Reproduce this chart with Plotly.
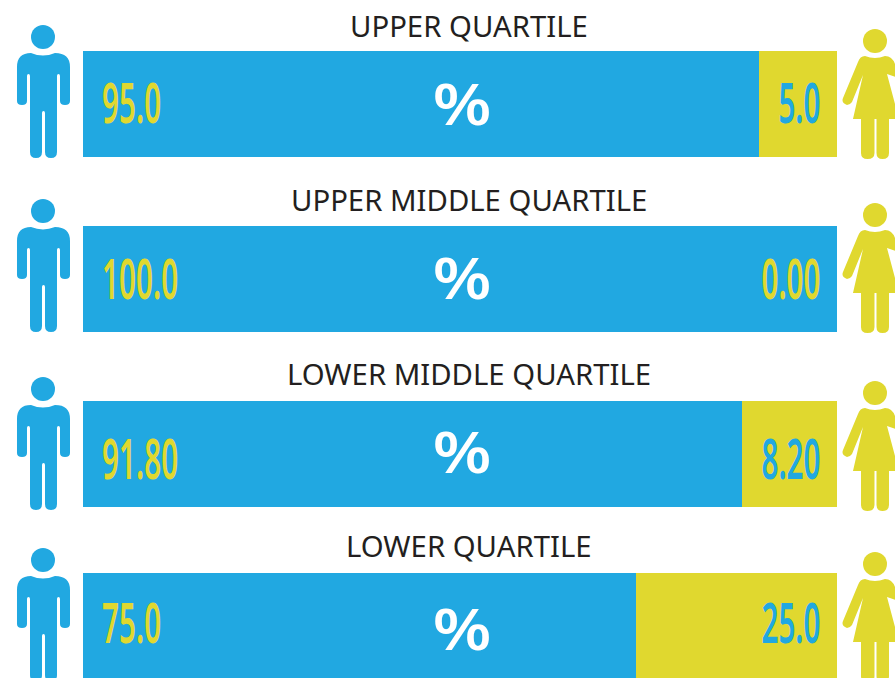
import re
import plotly.graph_objects as go

W, H = 895, 678
titles = ["UPPER QUARTILE", "UPPER MIDDLE QUARTILE", "LOWER MIDDLE QUARTILE", "LOWER QUARTILE"]
men_drawn = [89.7, 100.0, 87.4, 73.3]
women_drawn = [10.3, 0.0, 12.6, 26.7]
men_labels = ["95.0", "100.0", "91.80", "75.0"]
women_labels = ["5.0", "0.00", "8.20", "25.0"]
BLUE, YELLOW = "#21a8e1", "#e0d82f"
bar_tops = [51, 226, 401, 573]
bar_hs = [106, 106, 106, 105]
title_y = [26, 200, 374, 546]
label_y = [101, 277, 457, 621]
percent_y = [102, 277, 450, 627]
man_dy = [0, 174, 352, 523]
woman_dy = [0, 174, 352, 523]

MAN = ("M31 53 Q43 58 55 53 Q70 53 70 67 L70 101 Q70 105 65 105 Q60 105 60 101 L60 76 Q60 74 58.5 74 Q57 74 57 76 "
       "L57 152 Q57 158 51 158 Q45 158 45 152 L45 113 Q45 111 43.5 111 Q42 111 42 113 L42 152 Q42 158 36 158 Q30 158 30 152 "
       "L30 76 Q30 74 28.5 74 Q27 74 27 76 L27 101 Q27 105 22 105 Q17 105 17 101 L17 67 Q17 53 31 53 Z")
WOMAN = ("M865 56 Q875 60 885 56 Q892 56 895 64 L899 78 L887 74 L899 119 L889 119 L889 153 Q889 159 882.5 159 Q876.5 159 876.5 153 "
         "L876.5 119 L874.5 119 L874.5 153 Q874.5 159 867.5 159 Q861 159 861 153 L861 119 L853 119 L863 75 L852 102 Q850 105 847 105 "
         "Q841 103 843 98 L858 62 Q860 56 865 56 Z")

def to_paper(path, dy):
    toks = re.findall(r"[A-Za-z]|-?[\d.]+", path)
    out, is_x = [], True
    for t in toks:
        if t.isalpha():
            out.append(t); is_x = True
        else:
            v = float(t)
            out.append(f"{v / W:.5f}" if is_x else f"{1 - (v + dy) / H:.5f}")
            is_x = not is_x
    return " ".join(out)

fig = go.Figure()
layout = dict(width=W, height=H, margin=dict(l=0, r=0, t=0, b=0), plot_bgcolor="white", paper_bgcolor="white",
              barmode="stack", showlegend=False, shapes=[], annotations=[], bargap=0)
num_font = dict(family="Noto Sans", size=56, weight=600)

for i, title in enumerate(titles):
    suffix = "" if i == 0 else str(i + 1)
    xa, ya = "x" + suffix, "y" + suffix
    top, bot = bar_tops[i], bar_tops[i] + bar_hs[i]
    layout["xaxis" + suffix] = dict(domain=[83 / W, 837 / W], range=[0, 100], visible=False, anchor=ya, fixedrange=True)
    layout["yaxis" + suffix] = dict(domain=[1 - bot / H, 1 - top / H], visible=False, anchor=xa, fixedrange=True)
    fig.add_bar(x=[men_drawn[i]], y=[title], orientation="h", marker=dict(color=BLUE, line_width=0), xaxis=xa, yaxis=ya, hoverinfo="skip")
    fig.add_bar(x=[women_drawn[i]], y=[title], orientation="h", marker=dict(color=YELLOW, line_width=0), xaxis=xa, yaxis=ya, hoverinfo="skip")

    ann = layout["annotations"]
    ann.append(dict(x=468.5 / W, y=1 - title_y[i] / H, xref="paper", yref="paper", text=title, showarrow=False,
                    font=dict(family="Noto Sans", size=29.3, color="#231f20"), xanchor="center", yanchor="middle"))
    ly = 1 - label_y[i] / H
    ann.append(dict(x=100 / W, y=ly, xref="paper", yref="paper", text=men_labels[i], showarrow=False,
                    font=dict(num_font, color=YELLOW), xanchor="left", yanchor="middle"))
    ann.append(dict(x=823 / W, y=ly, xref="paper", yref="paper", text=women_labels[i], showarrow=False,
                    font=dict(num_font, color=BLUE if women_drawn[i] > 0 else YELLOW), xanchor="right", yanchor="middle"))
    ann.append(dict(x=462 / W, y=1 - percent_y[i] / H, xref="paper", yref="paper", text="%", showarrow=False,
                    font=dict(family="Open Sans", size=58, color="white", weight=600), xanchor="center", yanchor="middle"))

    layout["shapes"].append(dict(type="path", xref="paper", yref="paper", path=to_paper(MAN, man_dy[i]), fillcolor=BLUE, line_width=0))
    layout["shapes"].append(dict(type="circle", xref="paper", yref="paper", x0=31 / W, x1=55 / W,
                                 y0=1 - (49 + man_dy[i]) / H, y1=1 - (25 + man_dy[i]) / H, fillcolor=BLUE, line_width=0))
    layout["shapes"].append(dict(type="path", xref="paper", yref="paper", path=to_paper(WOMAN, woman_dy[i]), fillcolor=YELLOW, line_width=0))
    layout["shapes"].append(dict(type="circle", xref="paper", yref="paper", x0=863 / W, x1=887 / W,
                                 y0=1 - (53 + woman_dy[i]) / H, y1=1 - (29 + woman_dy[i]) / H, fillcolor=YELLOW, line_width=0))

fig.update_layout(**layout)

POST = """
document.body.style.margin='0';document.documentElement.style.overflow='hidden';
var gd=document.getElementById('{plot_id}');
function squeeze(){
  gd.querySelectorAll('.annotation-text').forEach(function(t){
    var s=t.textContent, sx=null, ox='50%';
    if(s==='%'){sx=1.18;}
    else if(/^[0-9.]+$/.test(s)){sx=0.53; ox=t.getBoundingClientRect().left<450?'0%':'100%';}
    if(sx===null)return;
    t.style.transformBox='fill-box';
    t.style.transformOrigin=ox+' 50%';
    t.style.transform='scaleX('+sx+')';
  });
}
squeeze();
if(gd.on)gd.on('plotly_afterplot',squeeze);
setTimeout(squeeze,50);
"""
fig.write_html("out.html", config={"displayModeBar": False}, post_script=POST)
